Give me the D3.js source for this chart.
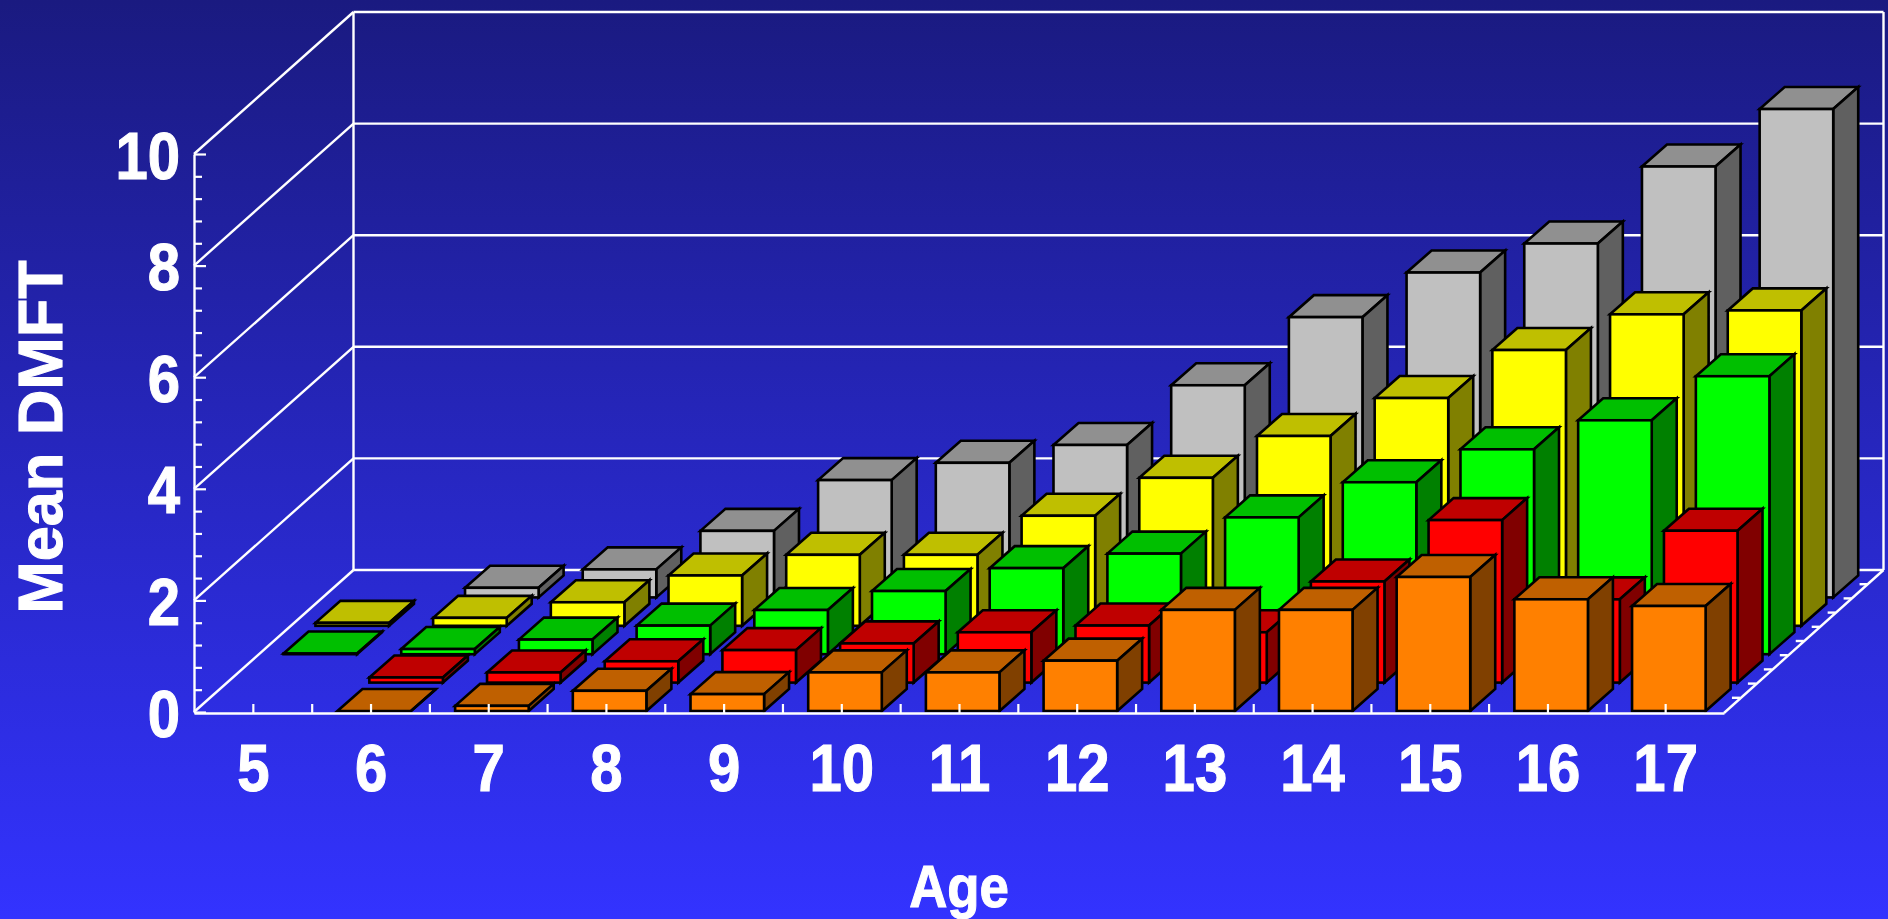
<!DOCTYPE html>
<html>
<head>
<meta charset="utf-8">
<script src="https://cdn.jsdelivr.net/npm/d3@7"></script>
<style>
html,body{margin:0;padding:0;background:#3333ff;overflow:hidden}
svg{display:block}
text{font-family:"Liberation Sans",Arial,sans-serif;font-weight:700;fill:#fff;stroke:#fff;stroke-width:1.1px;paint-order:stroke}
</style>
</head>
<body>
<svg id="chart" width="1888" height="919"></svg>
<script>
const ages = [5, 6, 7, 8, 9, 10, 11, 12, 13, 14, 15, 16, 17];
const seriesNames = ["orange", "red", "green", "yellow", "gray"];
const orangeValues = [null, 0, 0.11, 0.38, 0.32, 0.71, 0.71, 0.92, 1.83, 1.83, 2.42, 2.02, 1.90];
const redValues    = [null, 0.11, 0.20, 0.40, 0.60, 0.72, 0.92, 1.04, 0.92, 1.83, 2.93, 1.51, 2.74];
const greenValues  = [0.03, 0.11, 0.28, 0.53, 0.81, 1.15, 1.56, 1.82, 2.47, 3.10, 3.69, 4.21, 5.00];
const yellowValues = [0.07, 0.16, 0.44, 0.92, 1.29, 1.29, 1.99, 2.67, 3.42, 4.10, 4.96, 5.60, 5.67];
const grayValues   = [null, 0.19, 0.52, 1.21, 2.12, 2.43, 2.75, 3.82, 5.04, 5.84, 6.36, 7.74, 8.77];
const majorYTicks = [0, 2, 4, 6, 8, 10];
const xAxisTitle = "Age";
const yAxisTitle = "Mean DMFT";
const seriesColors = {
  orange: ["#ff8000", "#bf6000", "#804000"],
  red:    ["#ff0000", "#bf0000", "#800000"],
  green:  ["#00ff00", "#00bf00", "#008000"],
  yellow: ["#ffff00", "#bfbf00", "#808000"],
  gray:   ["#c0c0c0", "#909090", "#606060"]
};
const seriesValues = {orange: orangeValues, red: redValues, green: greenValues, yellow: yellowValues, gray: grayValues};

const W = 1888, H = 919;
const x0 = 194, x1 = 1724, yBase = 712, yTop = 154;
const depthX = 159.5, depthY = 142, barDepthX = 25, barDepthY = 22;
const labelScaleX = 0.88;

const svg = d3.select("#chart");
const defs = svg.append("defs");
const grad = defs.append("linearGradient").attr("id", "bg").attr("x1", 0).attr("y1", 0).attr("x2", 0).attr("y2", 1);
grad.append("stop").attr("offset", "0%").attr("stop-color", "#1a1a80");
grad.append("stop").attr("offset", "100%").attr("stop-color", "#3333ff");
svg.append("rect").attr("width", W).attr("height", H).attr("fill", "url(#bg)");

const x = d3.scaleBand().domain(ages).range([x0, x1]);
const y = d3.scaleLinear().domain([0, 10]).range([yBase, yTop]);
const zX = d3.scaleLinear().domain([0, seriesNames.length]).range([0, depthX]);
const zY = d3.scaleLinear().domain([0, seriesNames.length]).range([0, -depthY]);
const barW = x.bandwidth() * 0.625;
const barOff = x.bandwidth() / 2 - barW * 0.45;

// walls and floor
const grid = svg.append("g").attr("stroke", "#fff").attr("stroke-width", 2.4).attr("fill", "none");
majorYTicks.forEach(v => {
  grid.append("line").attr("x1", x0).attr("y1", y(v)).attr("x2", x0 + depthX).attr("y2", y(v) - depthY);
  grid.append("line").attr("x1", x0 + depthX).attr("y1", y(v) - depthY).attr("x2", x1 + depthX).attr("y2", y(v) - depthY);
});
grid.append("line").attr("x1", x0 + depthX).attr("y1", y(10) - depthY).attr("x2", x0 + depthX).attr("y2", y(0) - depthY);
grid.append("line").attr("x1", x1 + depthX).attr("y1", y(10) - depthY).attr("x2", x1 + depthX).attr("y2", y(0) - depthY);
grid.append("line").attr("x1", x1).attr("y1", y(0) + 1).attr("x2", x1 + depthX).attr("y2", y(0) - depthY);
d3.range(1, seriesNames.length * 2).forEach(k => {
  const z = k / 2;
  grid.append("line")
    .attr("x1", x1 + zX(z)).attr("y1", y(0) + zY(z))
    .attr("x2", x1 + zX(z) - 8).attr("y2", y(0) + zY(z));
});

// bars, back row first
const fmt = pts => pts.map(p => p.join(",")).join(" ");
seriesNames.slice().reverse().forEach(name => {
  const idx = seriesNames.indexOf(name);
  const c = seriesColors[name];
  const g = svg.append("g").attr("class", "series-" + name)
    .attr("stroke", "#000").attr("stroke-width", 2.6).attr("stroke-linejoin", "miter");
  const rows = ages.map((a, i) => ({age: a, v: seriesValues[name][i]})).filter(d => d.v !== null);
  const bars = g.selectAll("g").data(rows).join("g");
  const L = d => x(d.age) + barOff + zX(idx);
  const B = d => y(0) + zY(idx) - 1;
  const T = d => Math.min(y(d.v) + zY(idx), B(d));
  bars.append("polygon").attr("fill", c[1]).attr("points", d => fmt([
    [L(d), T(d)], [L(d) + barW, T(d)], [L(d) + barW + barDepthX, T(d) - barDepthY], [L(d) + barDepthX, T(d) - barDepthY]
  ]));
  bars.append("polygon").attr("fill", c[2]).attr("points", d => fmt([
    [L(d) + barW, T(d)], [L(d) + barW + barDepthX, T(d) - barDepthY], [L(d) + barW + barDepthX, B(d) - barDepthY], [L(d) + barW, B(d)]
  ]));
  bars.append("rect").attr("fill", c[0])
    .attr("x", L).attr("y", T).attr("width", barW).attr("height", d => B(d) - T(d));
});

// y axis
const yAxis = d3.axisLeft(y)
  .tickValues(d3.range(0, 51).filter(k => k % 2 === 0).map(k => k / 5))
  .tickSizeOuter(0)
  .tickFormat(v => majorYTicks.includes(v) ? String(v) : "");
const yG = svg.append("g").attr("transform", `translate(${x0},0)`).call(yAxis);
yG.select(".domain").attr("stroke", "#fff").attr("stroke-width", 2.4);
yG.selectAll(".tick line").attr("stroke", "#fff").attr("stroke-width", 2.2)
  .attr("x2", v => majorYTicks.includes(v) ? 12 : 8);
yG.selectAll(".tick text")
  .attr("x", null).attr("dy", null).attr("text-anchor", "end")
  .attr("font-size", 66).attr("fill", "#fff")
  .attr("transform", `translate(-14,24) scale(${labelScaleX},1)`);

// x axis
const xTickScale = d3.scaleLinear().domain([0, ages.length * 2]).range([x0, x1]);
const xAxis = d3.axisTop(xTickScale)
  .tickValues(d3.range(1, ages.length * 2))
  .tickSizeOuter(0)
  .tickFormat(k => k % 2 === 1 ? String(ages[(k - 1) / 2]) : "");
const xG = svg.append("g").attr("transform", `translate(0,${yBase + 1})`).call(xAxis);
xG.select(".domain").attr("stroke", "#fff").attr("stroke-width", 2.4);
xG.selectAll(".tick line").attr("stroke", "#fff").attr("stroke-width", 2.2).attr("y2", -9);
xG.selectAll(".tick text")
  .attr("y", null).attr("dy", null).attr("text-anchor", "middle")
  .attr("font-size", 66).attr("fill", "#fff")
  .attr("transform", `translate(0,78) scale(${labelScaleX},1)`);

// titles
svg.append("text").attr("text-anchor", "middle").attr("font-size", 60)
  .attr("transform", `translate(959,907) scale(${labelScaleX},1)`).text(xAxisTitle);
svg.append("text").attr("text-anchor", "middle").attr("font-size", 63)
  .attr("transform", "translate(62,437) rotate(-90)").text(yAxisTitle);
</script>
</body>
</html>
